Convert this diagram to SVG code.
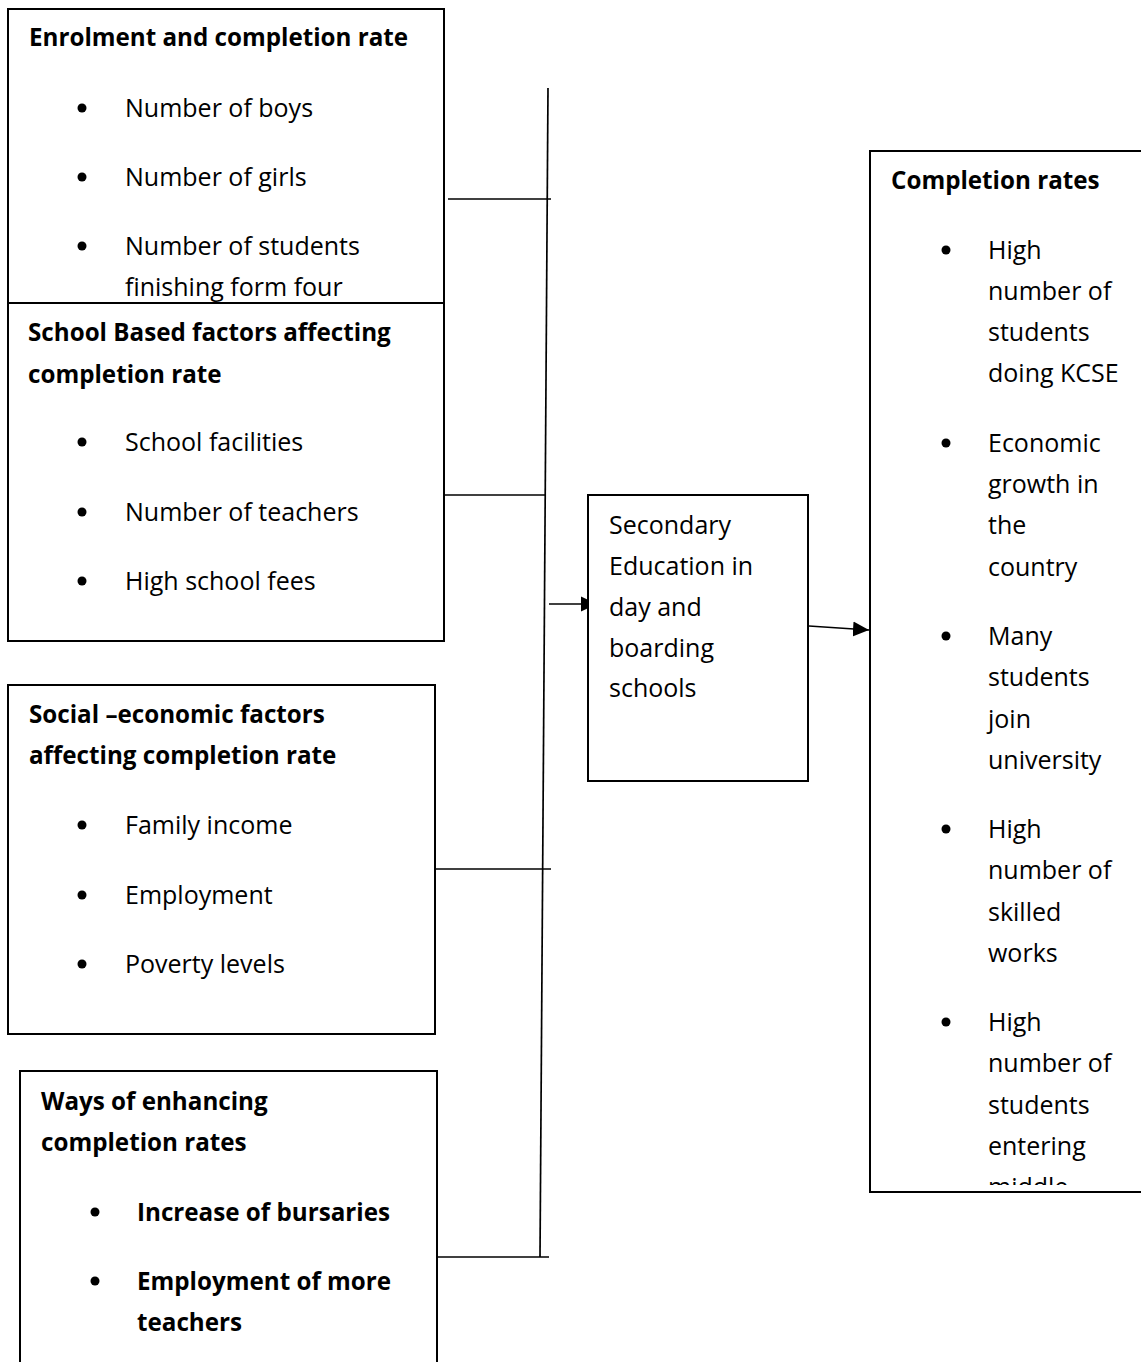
<svg xmlns="http://www.w3.org/2000/svg" width="1141" height="1362" viewBox="0 0 1141 1362">
<style>
text{font-family:"Open Sans","Noto Sans",sans-serif;font-size:25px;fill:#000}
.b{font-weight:bold;font-size:24.2px}
.box{fill:#fff;stroke:#000;stroke-width:2}
.ln{stroke:#000;stroke-width:1.7;fill:none}
.dot{fill:#000}
</style>
<defs>
<marker id="ah" markerUnits="userSpaceOnUse" markerWidth="18" markerHeight="18" refX="16" refY="8" orient="auto">
<path d="M0,0.5 L16,8 L0,15.5 Z" fill="#000"/>
</marker>
<clipPath id="clipC"><rect x="871" y="152" width="270" height="1033"/></clipPath>
</defs>
<rect width="1141" height="1362" fill="#fff"/>

<g id="connectors">
<line class="ln" x1="548" y1="88" x2="540" y2="1257"/>
<line class="ln" x1="448" y1="199" x2="551" y2="199"/>
<line class="ln" x1="444" y1="495" x2="546" y2="495"/>
<line class="ln" x1="435" y1="869" x2="551" y2="869"/>
<line class="ln" x1="437" y1="1257" x2="549" y2="1257"/>
<line class="ln" x1="549" y1="604" x2="597" y2="604" marker-end="url(#ah)"/>
<line class="ln" x1="809" y1="626" x2="869" y2="630" marker-end="url(#ah)"/>
</g>

<g id="enrolment">
<rect class="box" x="8" y="9" width="436" height="294"/>
<text class="b" x="29" y="46">Enrolment and completion rate</text>
<circle class="dot" cx="82" cy="108" r="4.5"/>
<text x="125" y="117">Number of boys</text>
<circle class="dot" cx="82" cy="177" r="4.5"/>
<text x="125" y="186">Number of girls</text>
<circle class="dot" cx="82" cy="246" r="4.5"/>
<text x="125" y="255">Number of students</text>
<text x="125" y="296">finishing form four</text>
</g>

<g id="school-based">
<rect class="box" x="8" y="303" width="436" height="338"/>
<text class="b" x="28" y="341">School Based factors affecting</text>
<text class="b" x="28" y="383">completion rate</text>
<circle class="dot" cx="82" cy="442" r="4.5"/>
<text x="125" y="451">School facilities</text>
<circle class="dot" cx="82" cy="512" r="4.5"/>
<text x="125" y="521">Number of teachers</text>
<circle class="dot" cx="82" cy="581" r="4.5"/>
<text x="125" y="590">High school fees</text>
</g>

<g id="social-economic">
<rect class="box" x="8" y="685" width="427" height="349"/>
<text class="b" x="29" y="723">Social –economic factors</text>
<text class="b" x="29" y="764">affecting completion rate</text>
<circle class="dot" cx="82" cy="825" r="4.5"/>
<text x="125" y="834">Family income</text>
<circle class="dot" cx="82" cy="895" r="4.5"/>
<text x="125" y="904">Employment</text>
<circle class="dot" cx="82" cy="964" r="4.5"/>
<text x="125" y="973">Poverty levels</text>
</g>

<g id="ways">
<rect class="box" x="20" y="1071" width="417" height="320"/>
<text class="b" x="41" y="1110">Ways of enhancing</text>
<text class="b" x="41" y="1151">completion rates</text>
<circle class="dot" cx="95" cy="1212" r="4.5"/>
<text class="b" x="137" y="1221">Increase of bursaries</text>
<circle class="dot" cx="95" cy="1281" r="4.5"/>
<text class="b" x="137" y="1290">Employment of more</text>
<text class="b" x="137" y="1331">teachers</text>
</g>

<g id="secondary">
<rect class="box" x="588" y="495" width="220" height="286"/>
<text x="609" y="534">Secondary</text>
<text x="609" y="575">Education in</text>
<text x="609" y="616">day and</text>
<text x="609" y="657">boarding</text>
<text x="609" y="697">schools</text>
</g>

<g id="completion">
<rect class="box" x="870" y="151" width="272" height="1041"/>
<text class="b" x="891" y="189">Completion rates</text>
<g clip-path="url(#clipC)">
<circle class="dot" cx="946" cy="250" r="4.5"/>
<text x="988" y="259">High</text>
<text x="988" y="300">number of</text>
<text x="988" y="341">students</text>
<text x="988" y="382">doing KCSE</text>
<circle class="dot" cx="946" cy="443" r="4.5"/>
<text x="988" y="452">Economic</text>
<text x="988" y="493">growth in</text>
<text x="988" y="534">the</text>
<text x="988" y="576">country</text>
<circle class="dot" cx="946" cy="636" r="4.5"/>
<text x="988" y="645">Many</text>
<text x="988" y="686">students</text>
<text x="988" y="728">join</text>
<text x="988" y="769">university</text>
<circle class="dot" cx="946" cy="829" r="4.5"/>
<text x="988" y="838">High</text>
<text x="988" y="879">number of</text>
<text x="988" y="921">skilled</text>
<text x="988" y="962">works</text>
<circle class="dot" cx="946" cy="1022" r="4.5"/>
<text x="988" y="1031">High</text>
<text x="988" y="1072">number of</text>
<text x="988" y="1114">students</text>
<text x="988" y="1155">entering</text>
<text x="988" y="1196">middle</text>
</g>
</g>
</svg>
